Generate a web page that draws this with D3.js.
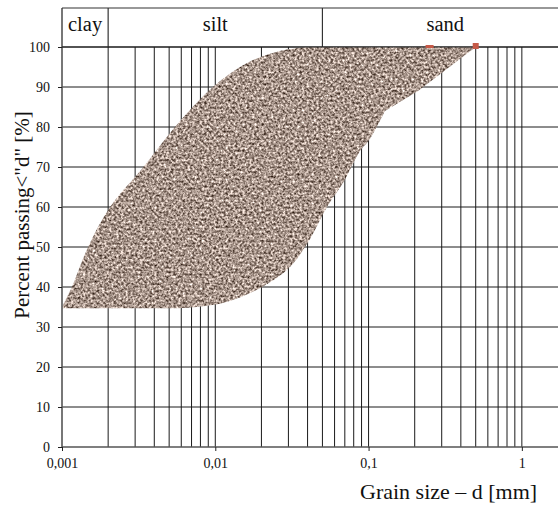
<!DOCTYPE html>
<html>
<head>
<meta charset="utf-8">
<script src="https://cdn.jsdelivr.net/npm/d3@7"></script>
<style>
  body { margin: 0; background: #fff; }
  svg { display: block; }
  text { fill: #111; }
</style>
</head>
<body>
<svg id="chart" width="558" height="505"></svg>
<script>
// ***************** DATA ********************
var xTicks = [0.001, 0.01, 0.1, 1];
var xTickLabels = ["0,001", "0,01", "0,1", "1"];
var yTicks = [0, 10, 20, 30, 40, 50, 60, 70, 80, 90, 100];
var zoneNames = ["clay", "silt", "sand"];
var zoneBounds = [0.001, 0.002, 0.05, 2];
// fine side of the band, bottom to top  [d mm, % passing]
var fineEdge = [[0.001, 35], [0.00116, 40], [0.00148, 50], [0.00206, 60], [0.0034, 70],
	[0.00546, 80], [0.00966, 90], [0.0161, 96], [0.0264, 99], [0.0397, 100]];
// coarse side of the band, top to bottom
var coarseEdge = [[0.5, 100], [0.21, 89], [0.128, 84], [0.102, 77], [0.088, 74], [0.068, 66],
	[0.0535, 60], [0.0415, 52], [0.0307, 45], [0.0202, 40], [0.0112, 36], [0.0059, 34.7], [0.001, 34.7]];
var markers = [[0.25, 100], [0.5, 100]];

// ***************** SETUP ********************
var svg = d3.select("#chart");
var x = d3.scaleLog().domain([0.001, 2]).range([62, 568]);
var y = d3.scaleLinear().domain([0, 100]).range([447, 47]);
var serif = "'Liberation Serif', 'DejaVu Serif', serif";

var defs = svg.append("defs");
var filter = defs.append("filter")
	.attr("id", "grain")
	.attr("x", 0).attr("y", 0).attr("width", "100%").attr("height", "100%")
	.attr("color-interpolation-filters", "sRGB");
filter.append("feTurbulence")
	.attr("type", "fractalNoise")
	.attr("baseFrequency", 0.42)
	.attr("numOctaves", 2)
	.attr("seed", 7)
	.attr("result", "noise");
filter.append("feColorMatrix")
	.attr("in", "noise")
	.attr("type", "matrix")
	.attr("values", "1.35 0 0 0 -0.02  1.35 0 0 0 -0.09  1.35 0 0 0 -0.13  0 0 0 0 1")
	.attr("result", "col");
filter.append("feComposite")
	.attr("in", "col").attr("in2", "SourceGraphic").attr("operator", "in");

// ***************** GRID ********************
var grid = svg.append("g");
grid.selectAll(".vgrid")
	.data(x.ticks().filter(function(d) { return d > 0.001 && d < 1.5; }))
	.enter().append("line")
	.attr("x1", function(d) { return x(d); })
	.attr("x2", function(d) { return x(d); })
	.attr("y1", y(100)).attr("y2", y(0))
	.attr("stroke", "#1a1a1a").attr("stroke-width", 1);
grid.selectAll(".hgrid")
	.data(yTicks.filter(function(d) { return d > 0; }))
	.enter().append("line")
	.attr("x1", x(0.001)).attr("x2", 570)
	.attr("y1", function(d) { return y(d); })
	.attr("y2", function(d) { return y(d); })
	.attr("stroke", "#1a1a1a").attr("stroke-width", 1);

// ***************** BAND ********************
var lin = d3.line().x(function(d) { return x(d[0]); }).y(function(d) { return y(d[1]); });
var smooth = d3.line().curve(d3.curveCatmullRom.alpha(0.5))
	.x(function(d) { return x(d[0]); }).y(function(d) { return y(d[1]); });
var cont = function(s) { return s.replace(/^M/, "L"); };
var bandPath = smooth(fineEdge)
	+ cont(lin(coarseEdge.slice(0, 3)))
	+ cont(smooth(coarseEdge.slice(2, 12)))
	+ cont(lin(coarseEdge.slice(11)))
	+ "Z";
svg.append("path")
	.attr("d", bandPath)
	.attr("fill", "#a49284")
	.attr("filter", "url(#grain)");

// ***************** AXES ********************
svg.append("line")
	.attr("x1", x(0.001)).attr("x2", x(0.001)).attr("y1", 8).attr("y2", y(0))
	.attr("stroke", "#555").attr("stroke-width", 1.6);
svg.append("line")
	.attr("x1", x(0.001)).attr("x2", 570).attr("y1", y(0)).attr("y2", y(0))
	.attr("stroke", "#555").attr("stroke-width", 1.6);

var yAxis = svg.append("g")
	.attr("transform", "translate(" + x(0.001) + ",0)")
	.call(d3.axisLeft(y).tickValues(yTicks).tickSize(4).tickSizeOuter(0).tickPadding(8));
var xAxis = svg.append("g")
	.attr("transform", "translate(0," + y(0) + ")")
	.call(d3.axisBottom(x).tickValues(xTicks).tickSize(4).tickSizeOuter(0).tickPadding(7)
		.tickFormat(function(d, i) { return xTickLabels[i]; }));
[yAxis, xAxis].forEach(function(g) {
	g.attr("font-family", serif).attr("font-size", 14);
	g.select(".domain").remove();
	g.selectAll(".tick line").attr("stroke", "#222");
	g.selectAll("text").attr("fill", "#111");
});

// ***************** HEADER ********************
var header = svg.append("g");
header.append("line")
	.attr("x1", x(0.001)).attr("x2", 570).attr("y1", 8).attr("y2", 8)
	.attr("stroke", "#333").attr("stroke-width", 1.2);
header.selectAll(".divider")
	.data(zoneBounds.slice(1, 3))
	.enter().append("line")
	.attr("x1", function(d) { return x(d); })
	.attr("x2", function(d) { return x(d); })
	.attr("y1", 8).attr("y2", y(100))
	.attr("stroke", "#333").attr("stroke-width", 1.2);
header.append("line")
	.attr("x1", x(0.001)).attr("x2", 570).attr("y1", y(100)).attr("y2", y(100))
	.attr("stroke", "#1a1a1a").attr("stroke-width", 1.2);
header.selectAll(".zone")
	.data(zoneNames)
	.enter().append("text")
	.attr("x", function(d, i) { return (x(zoneBounds[i]) + x(zoneBounds[i + 1])) / 2; })
	.attr("y", 31)
	.attr("text-anchor", "middle")
	.attr("font-family", serif)
	.attr("font-size", 20.5)
	.text(function(d) { return d; });

svg.selectAll(".marker")
	.data(markers)
	.enter().append("rect")
	.attr("x", function(d, i) { return x(d[0]) - (i ? 3 : 4); })
	.attr("y", function(d, i) { return y(d[1]) - (i ? 4 : 2); })
	.attr("width", function(d, i) { return i ? 6 : 8; })
	.attr("height", function(d, i) { return i ? 6 : 3; })
	.attr("fill", "#c65a48");

// ***************** TITLES ********************
svg.append("text")
	.attr("x", 360).attr("y", 499)
	.attr("font-family", serif)
	.attr("font-size", 22)
	.text("Grain size \u2013 d [mm]");
svg.append("text")
	.attr("transform", "translate(29,215) rotate(-90)")
	.attr("text-anchor", "middle")
	.attr("font-family", serif)
	.attr("font-size", 21)
	.text("Percent passing<\"d\" [%]");
</script>
</body>
</html>
